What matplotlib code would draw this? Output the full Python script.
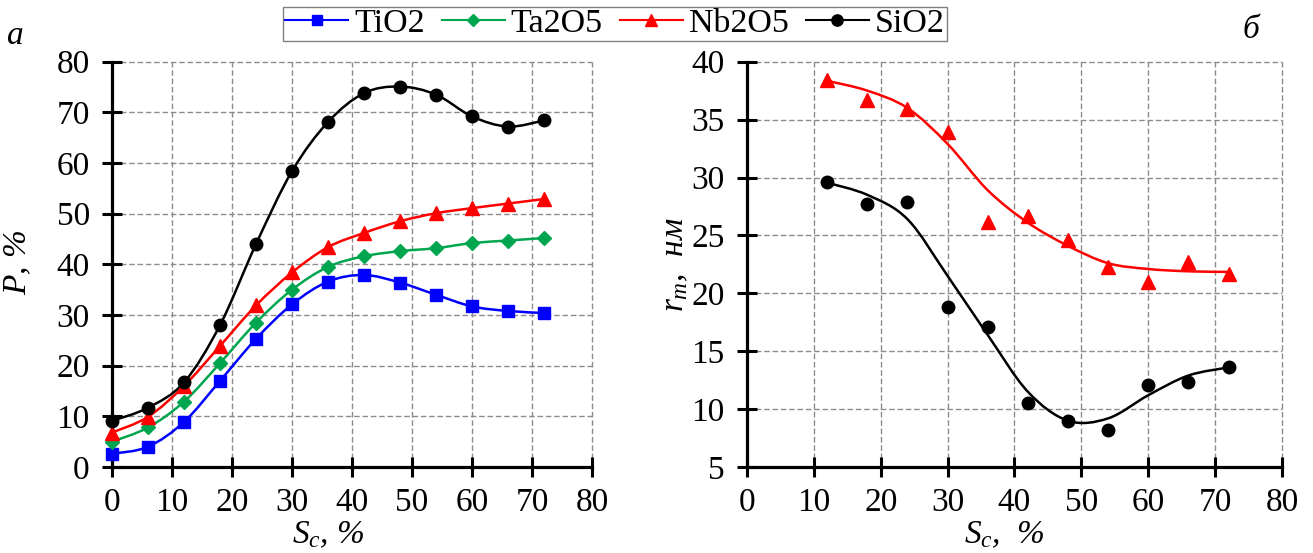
import numpy as np
import matplotlib
matplotlib.use('Agg')
import matplotlib.pyplot as plt
from matplotlib.path import Path
from matplotlib.patches import PathPatch
from matplotlib.lines import Line2D

plt.rcParams['font.family'] = ['Liberation Serif', 'DejaVu Serif']
plt.rcParams['mathtext.fontset'] = 'custom'
plt.rcParams['mathtext.rm'] = 'Liberation Serif'
plt.rcParams['mathtext.it'] = 'Liberation Serif:italic'
plt.rcParams['font.size'] = 24

# ---------- данные: панель а ----------
sc_a = [0, 6, 12, 18, 24, 30, 36, 42, 48, 54, 60, 66, 72]
p_tio2 = [2.6, 4.0, 8.9, 17.0, 25.3, 32.1, 36.6, 37.9, 36.4, 34.0, 31.7, 30.8, 30.4]
p_ta2o5 = [5.0, 7.8, 12.9, 20.5, 28.5, 35.0, 39.5, 41.6, 42.6, 43.2, 44.2, 44.7, 45.2]
p_nb2o5 = [6.8, 9.9, 16.0, 23.9, 31.9, 38.4, 43.4, 46.2, 48.5, 50.1, 51.1, 52.0, 52.9]
p_sio2 = [9.1, 11.7, 16.7, 28.0, 44.0, 58.4, 68.1, 73.8, 75.1, 73.5, 69.2, 67.2, 68.4]

# ---------- данные: панель б ----------
sc_b = [12, 18, 24, 30, 36, 42, 48, 54, 60, 66, 72]
r_nb2o5 = [38.4, 36.7, 35.9, 33.9, 26.2, 26.7, 24.6, 22.3, 21.0, 22.7, 21.7]
r_sio2 = [29.6, 27.7, 27.85, 18.8, 17.1, 10.5, 9.0, 8.2, 12.1, 12.3, 13.6]
trend_nb2o5 = [38.35, 37.5, 36.0, 32.9, 28.9, 26.1, 24.1, 22.6, 22.1, 21.9, 21.85]
trend_sio2 = [29.55, 28.5, 26.4, 21.5, 16.4, 11.5, 9.0, 9.2, 11.2, 12.9, 13.6]

series_names = ['TiO2', 'Ta2O5', 'Nb2O5', 'SiO2']
colors = ['#0000FF', '#00A54F', '#FF0000', '#000000']
markers = ['s', 'D', '^', 'o']
msizes = [8.5, 7, 10, 9]


def smooth_patch(x, y, color, lw=1.8):
    # сглаженная линия как в Excel (кубические Безье)
    pts = np.column_stack([x, y]).astype(float)
    ext = np.vstack([pts[0], pts, pts[-1]])
    verts = [pts[0]]
    codes = [Path.MOVETO]
    for i in range(len(pts) - 1):
        p0, p1, p2, p3 = ext[i], ext[i + 1], ext[i + 2], ext[i + 3]
        verts += [p1 + (p2 - p0) / 6, p2 - (p3 - p1) / 6, p2]
        codes += [Path.CURVE4] * 3
    return PathPatch(Path(verts, codes), facecolor='none', edgecolor=color, lw=lw, zorder=3)


def style_axes(ax, ylim, yticks):
    ax.set_xlim(0, 80)
    ax.set_ylim(*ylim)
    ax.set_xticks(range(0, 81, 10))
    ax.set_yticks(yticks)
    for s in ['top', 'right']:
        ax.spines[s].set_visible(False)
    for s in ['left', 'bottom']:
        ax.spines[s].set_linewidth(2.3)
    ax.tick_params(direction='inout', length=14, width=2.2, labelsize=24)
    ax.tick_params(axis='x', pad=8)
    ax.tick_params(axis='y', pad=9)
    ax.grid(True, color='#8c8c8c', linestyle=(0, (4, 2)), linewidth=1.0)
    for gl in ax.get_xgridlines() + ax.get_ygridlines():
        gl.set_clip_on(False)


fig = plt.figure(figsize=(13.13, 5.53), dpi=100)
ax1 = fig.add_axes([0.0853, 0.1555, 0.3656, 0.7329])
ax2 = fig.add_axes([0.5689, 0.1555, 0.4075, 0.7329])

# ---------- панель а ----------
style_axes(ax1, (0, 80), range(0, 81, 10))
for vals, c, m, ms in zip([p_tio2, p_ta2o5, p_nb2o5, p_sio2], colors, markers, msizes):
    ax1.add_patch(smooth_patch(sc_a, vals, c))
    ax1.plot(sc_a, vals, ls='none', marker=m, ms=ms, color=c, zorder=4, clip_on=False)
ax1.set_ylabel('$P$, %', style='italic')
ax1.yaxis.set_label_coords(-0.165, 0.506)
ax1.set_xlabel('$S_c$, %', style='italic')
ax1.xaxis.set_label_coords(0.45, -0.13)

# ---------- панель б ----------
style_axes(ax2, (5, 40), range(5, 41, 5))
for vals, tr, c, m, ms in [(r_nb2o5, trend_nb2o5, colors[2], '^', 10),
                           (r_sio2, trend_sio2, colors[3], 'o', 9)]:
    ax2.add_patch(smooth_patch(sc_b, tr, c))
    ax2.plot(sc_b, vals, ls='none', marker=m, ms=ms, color=c, zorder=4)
ax2.set_ylabel('$r_m$,  нм', style='italic')
ax2.yaxis.set_label_coords(-0.107, 0.5)
ax2.set_xlabel('$S_c$,  %', style='italic')
ax2.xaxis.set_label_coords(0.482, -0.13)

fig.text(15 / 1313, 1 - 36 / 553, 'а', style='italic', fontsize=24, ha='center', va='center')
fig.text(1251 / 1313, 1 - 30 / 553, 'б', style='italic', fontsize=24, ha='center', va='center')

handles = [Line2D([], [], color=c, marker=m, ms=ms * 0.9, lw=1.5)
           for c, m, ms in zip(colors, markers, msizes)]
leg = fig.legend(handles, series_names, ncol=4, loc='center',
                 bbox_to_anchor=(615 / 1313, 1 - 24 / 553), fontsize=24.5,
                 frameon=True, fancybox=False, framealpha=1, edgecolor='#808080',
                 borderpad=0.05, handlelength=1.85, handletextpad=0.18,
                 columnspacing=0.5, borderaxespad=0)
leg.get_frame().set_linewidth(1.0)

plt.savefig('out.png', dpi=100)
plt.close()
